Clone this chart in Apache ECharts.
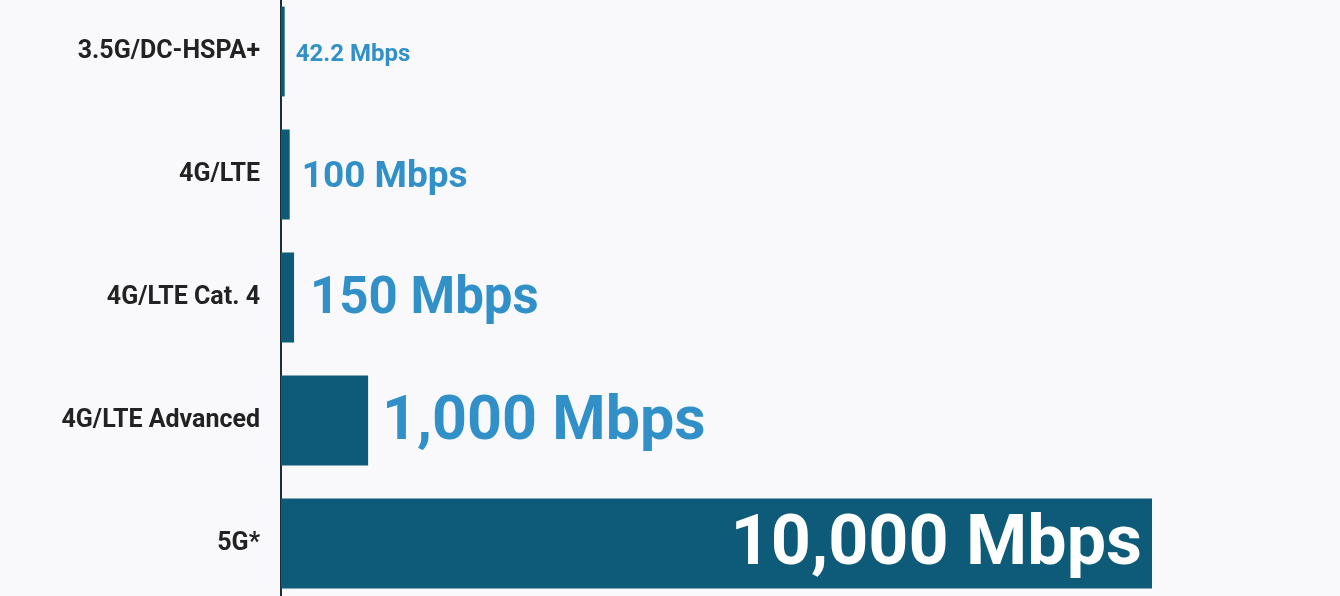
<!DOCTYPE html>
<html><head><meta charset="utf-8">
<script src="https://cdn.jsdelivr.net/npm/echarts@6/dist/echarts.min.js"></script>
<style>html,body{margin:0;padding:0;background:#f9f9fb;}#c{width:1340px;height:596px;}</style>
</head><body><div id="c"></div>
<script>
const categories = ['3.5G/DC-HSPA+', '4G/LTE', '4G/LTE Cat. 4', '4G/LTE Advanced', '5G*'];
const speeds = [42.2, 100, 150, 1000, 10000];
const valueLabels = ['42.2 Mbps', '100 Mbps', '150 Mbps', '1,000 Mbps', '10,000 Mbps'];
const labelSizes = [24, 37, 51, 61, 70];
const labelGaps = [11, 12, 16, 14, 10];

const chart = echarts.init(document.getElementById('c'));
const data = speeds.map((v, i) => {
  const last = i === speeds.length - 1;
  return {
    value: v,
    label: {
      show: true,
      position: last ? 'insideRight' : 'right',
      distance: labelGaps[i],
      offset: [0, 3],
      formatter: valueLabels[i],
      fontSize: labelSizes[i],
      fontWeight: 'bold',
      fontFamily: 'Roboto',
      color: last ? '#ffffff' : '#3190c8'
    }
  };
});
chart.setOption({
  backgroundColor: '#f9f9fb',
  animation: false,
  grid: { left: 281, width: 871, top: -10, height: 615, containLabel: false, outerBoundsMode: 'none' },
  xAxis: {
    type: 'value', min: 0, max: 10000,
    show: true, axisLine: { show: false }, axisTick: { show: false },
    axisLabel: { show: false }, splitLine: { show: false }
  },
  yAxis: {
    type: 'category', data: categories, inverse: true,
    axisLine: { show: true, lineStyle: { color: '#1d2d35', width: 2 } },
    axisTick: { show: false },
    axisLabel: { margin: 21, padding: [10, 0, 0, 0], fontSize: 25, fontWeight: 'bold', fontFamily: 'Roboto', color: '#222222' }
  },
  series: [{
    type: 'bar', data: data, barCategoryGap: '27%',
    itemStyle: { color: '#0d5b78' }
  }]
});
</script></body></html>
